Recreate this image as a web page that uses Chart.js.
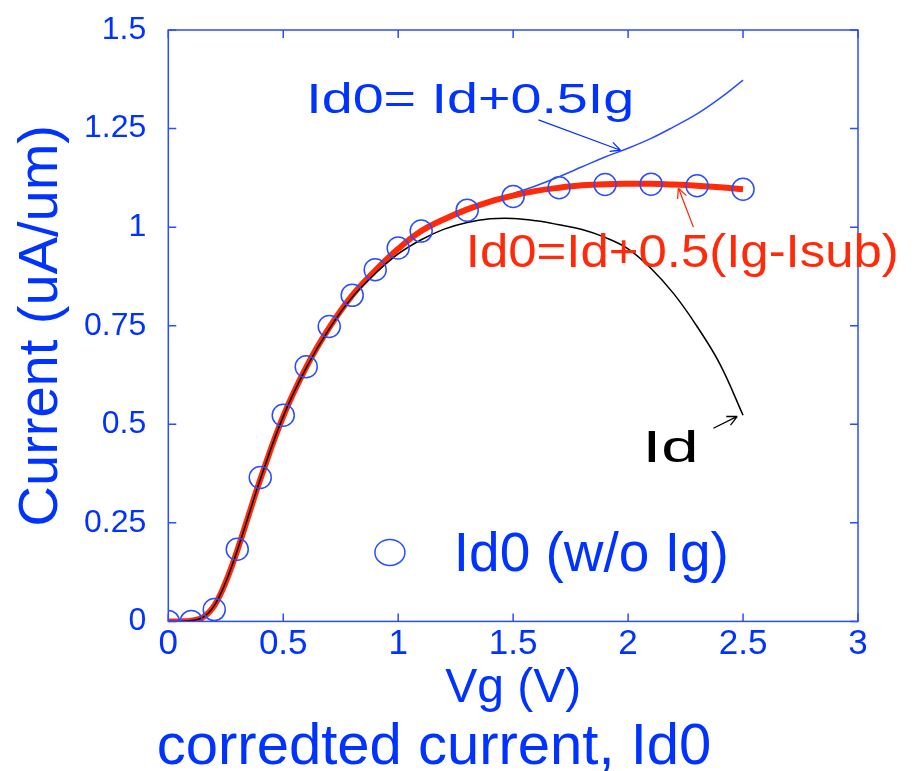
<!DOCTYPE html>
<html>
<head>
<meta charset="utf-8">
<script src="https://cdn.jsdelivr.net/npm/chart.js@4.4.1/dist/chart.umd.min.js"></script>
<style>
  html, body { margin: 0; padding: 0; background: #fff; }
  #wrap { width: 924px; height: 771px; }
</style>
</head>
<body>
<div id="wrap"><canvas id="ivChart"></canvas></div>
<script>
// --- data (Vg in V, current in uA/um) ---
const vgCurve = [0, 0.05, 0.1, 0.15, 0.2, 0.25, 0.3, 0.35, 0.4, 0.5, 0.6, 0.7, 0.8, 0.9, 1.0,
                 1.1, 1.2, 1.3, 1.4, 1.5, 1.6, 1.7, 1.8, 1.9, 2.0, 2.1, 2.2, 2.3, 2.4, 2.5];
// Id0 = Id + 0.5(Ig - Isub)  (thick red)
const id0Corrected = [0, 0, 0.002, 0.01, 0.04, 0.1, 0.18, 0.27, 0.36, 0.52, 0.645, 0.745, 0.827, 0.89, 0.945,
                      0.99, 1.02, 1.045, 1.065, 1.08, 1.092, 1.1, 1.106, 1.109, 1.11, 1.11, 1.108, 1.105, 1.101, 1.096];
// Id  (thin black)
const idRaw = [0, 0, 0.002, 0.01, 0.04, 0.1, 0.18, 0.27, 0.36, 0.52, 0.643, 0.742, 0.822, 0.882, 0.932,
               0.968, 0.995, 1.012, 1.021, 1.022, 1.016, 1.006, 0.994, 0.974, 0.945, 0.895, 0.83, 0.748, 0.652, 0.523];
// Id0 = Id + 0.5Ig  (thin blue)
const id0WithIg = [0, 0, 0.002, 0.01, 0.04, 0.1, 0.18, 0.27, 0.36, 0.52, 0.645, 0.745, 0.827, 0.89, 0.945,
                   0.99, 1.02, 1.045, 1.065, 1.085, 1.105, 1.128, 1.153, 1.178, 1.2, 1.225, 1.255, 1.287, 1.327, 1.373];
// Id0 (w/o Ig)  (open circles)
const vgPts = [0, 0.1, 0.2, 0.3, 0.4, 0.5, 0.6, 0.7, 0.8, 0.9, 1.0, 1.1, 1.3, 1.5, 1.7, 1.9, 2.1, 2.3, 2.5];
const id0Pts = [0, 0, 0.03, 0.183, 0.365, 0.523, 0.646, 0.748, 0.827, 0.892, 0.947, 0.99, 1.043, 1.078, 1.1, 1.108, 1.109, 1.105, 1.096];

const xTicks = [0, 0.5, 1, 1.5, 2, 2.5, 3];
const xTickLabels = ['0', '0.5', '1', '1.5', '2', '2.5', '3'];
const yTicks = [0, 0.25, 0.5, 0.75, 1, 1.25, 1.5];
const yTickLabels = ['0', '0.25', '0.5', '0.75', '1', '1.25', '1.5'];

const BLUE = '#0033ff';
const LINE_BLUE = '#2a4dff';
const RED = '#ff2a0a';
const FONT = "'Liberation Sans', Arial, sans-serif";

const pairs = (xs, ys) => xs.map((v, i) => ({ x: v, y: ys[i] }));

// labels + arrows placed in data coordinates
const notes = [
  { text: 'Id0= Id+0.5Ig', x: 0.6, y: 1.289, size: 42, width: 328, color: BLUE },
  { text: 'Id0=Id+0.5(Ig-Isub)', x: 1.294, y: 0.898, size: 47, width: 433, color: RED },
  { text: 'Id', x: 2.063, y: 0.404, size: 44, width: 56, color: '#000' },
  { text: 'Id0 (w/o Ig)', x: 1.242, y: 0.129, size: 55, width: 275, color: BLUE }
];
const arrows = [
  { from: [1.61, 1.272], to: [1.967, 1.195], color: BLUE },
  { from: [2.284, 1.0], to: [2.219, 1.099], color: RED },
  { from: [2.371, 0.49], to: [2.475, 0.52], color: '#000' }
];
const legendMark = { x: 0.964, y: 0.175 };

const notesPlugin = {
  id: 'notes',
  afterDraw(chart) {
    const { ctx, chartArea: a, scales: { x, y } } = chart;
    ctx.save();
    // frame
    ctx.strokeStyle = LINE_BLUE;
    ctx.lineWidth = 1.5;
    ctx.strokeRect(a.left, a.top, a.right - a.left, a.bottom - a.top);
    // inward ticks on all sides
    ctx.beginPath();
    x.ticks.forEach(t => {
      const px = x.getPixelForValue(t.value);
      ctx.moveTo(px, a.bottom); ctx.lineTo(px, a.bottom - 8);
      ctx.moveTo(px, a.top); ctx.lineTo(px, a.top + 8);
    });
    y.ticks.forEach(t => {
      const py = y.getPixelForValue(t.value);
      ctx.moveTo(a.left, py); ctx.lineTo(a.left + 8, py);
      ctx.moveTo(a.right, py); ctx.lineTo(a.right - 8, py);
    });
    ctx.stroke();

    // arrows
    arrows.forEach(ar => {
      const x1 = x.getPixelForValue(ar.from[0]), y1 = y.getPixelForValue(ar.from[1]);
      const x2 = x.getPixelForValue(ar.to[0]), y2 = y.getPixelForValue(ar.to[1]);
      const ang = Math.atan2(y2 - y1, x2 - x1);
      ctx.strokeStyle = ar.color;
      ctx.lineWidth = 1.3;
      ctx.beginPath();
      ctx.moveTo(x1, y1); ctx.lineTo(x2, y2);
      ctx.moveTo(x2, y2); ctx.lineTo(x2 - 11 * Math.cos(ang - 0.45), y2 - 11 * Math.sin(ang - 0.45));
      ctx.moveTo(x2, y2); ctx.lineTo(x2 - 11 * Math.cos(ang + 0.45), y2 - 11 * Math.sin(ang + 0.45));
      ctx.stroke();
    });

    // text labels, stretched to the width seen in the figure
    ctx.textBaseline = 'alphabetic';
    ctx.textAlign = 'left';
    notes.forEach(n => {
      ctx.font = n.size + 'px ' + FONT;
      const w = ctx.measureText(n.text).width;
      ctx.save();
      ctx.translate(x.getPixelForValue(n.x), y.getPixelForValue(n.y));
      ctx.scale(n.width / w, 1);
      ctx.fillStyle = n.color;
      ctx.fillText(n.text, 0, 0);
      ctx.restore();
    });

    // legend marker
    ctx.strokeStyle = LINE_BLUE;
    ctx.lineWidth = 1.5;
    ctx.beginPath();
    ctx.ellipse(x.getPixelForValue(legendMark.x), y.getPixelForValue(legendMark.y), 15, 13, 0, 0, Math.PI * 2);
    ctx.stroke();
    ctx.restore();
  }
};

const ctx = document.getElementById('ivChart').getContext('2d');
new Chart(ctx, {
  type: 'scatter',
  data: {
    datasets: [
      {
        label: 'Id0 (w/o Ig)',
        data: pairs(vgPts, id0Pts),
        showLine: false,
        pointStyle: 'circle',
        pointRadius: 11,
        pointBorderWidth: 1.5,
        pointBorderColor: LINE_BLUE,
        pointBackgroundColor: 'rgba(0,0,0,0)',
        order: 0
      },
      {
        label: 'Id',
        data: pairs(vgCurve, idRaw),
        showLine: true,
        borderColor: '#000',
        borderWidth: 1.5,
        pointRadius: 0,
        tension: 0.4,
        order: 1
      },
      {
        label: 'Id0=Id+0.5(Ig-Isub)',
        data: pairs(vgCurve, id0Corrected),
        showLine: true,
        borderColor: RED,
        borderWidth: 6,
        pointRadius: 0,
        tension: 0.4,
        order: 2
      },
      {
        label: 'Id0= Id+0.5Ig',
        data: pairs(vgCurve, id0WithIg),
        showLine: true,
        borderColor: LINE_BLUE,
        borderWidth: 1.5,
        pointRadius: 0,
        tension: 0.4,
        order: 3
      }
    ]
  },
  options: {
    responsive: true,
    maintainAspectRatio: false,
    animation: false,
    layout: { padding: { left: 10, right: 66, top: 30, bottom: 0 } },
    plugins: {
      legend: { display: false },
      tooltip: { enabled: false },
      title: {
        display: true,
        position: 'bottom',
        text: 'corredted current, Id0',
        color: BLUE,
        font: { family: FONT, size: 58, weight: 'normal', lineHeight: 0.8 },
        padding: { top: 0, bottom: 0 }
      }
    },
    scales: {
      x: {
        type: 'linear',
        min: 0, max: 3,
        afterBuildTicks: s => { s.ticks = xTicks.map(v => ({ value: v })); },
        grid: { display: false, drawTicks: false },
        border: { display: false },
        ticks: {
          color: BLUE, font: { family: FONT, size: 35, lineHeight: 1 }, padding: 5, maxRotation: 0,
          callback: (v, i) => xTickLabels[i]
        },
        title: {
          display: true, text: 'Vg (V)', color: BLUE,
          font: { family: FONT, size: 48, lineHeight: 0.9 },
          padding: { top: 1, bottom: 14 }
        }
      },
      y: {
        type: 'linear',
        min: 0, max: 1.5,
        afterBuildTicks: s => { s.ticks = yTicks.map(v => ({ value: v })); },
        grid: { display: false },
        border: { display: false },
        ticks: {
          color: BLUE, font: { family: FONT, size: 32, lineHeight: 1 }, padding: 14,
          callback: (v, i) => yTickLabels[i]
        },
        title: {
          display: true, text: 'Current (uA/um)', color: BLUE,
          font: { family: FONT, size: 56, lineHeight: 1 },
          padding: { top: 4, bottom: 0 }
        }
      }
    }
  },
  plugins: [notesPlugin]
});
</script>
</body>
</html>
